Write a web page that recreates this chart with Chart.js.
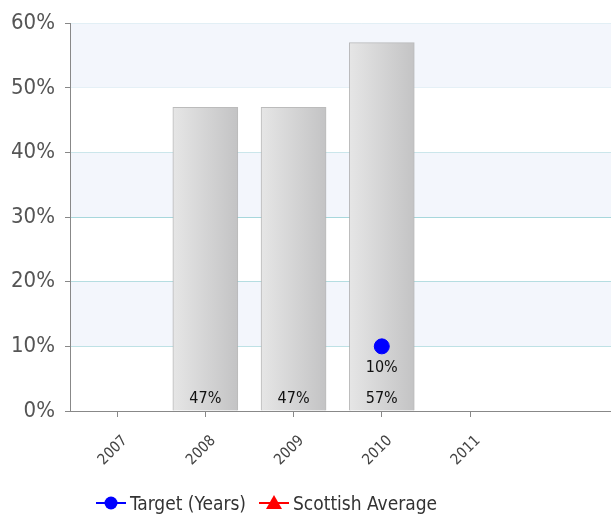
<!DOCTYPE html>
<html lang="en">
<head>
    <meta charset="UTF-8">
    <title>Target chart</title>
    <script src="https://cdn.jsdelivr.net/npm/chart.js"></script>
    <style>
        body { margin: 0; overflow: hidden; background: #fff; }
        .chart-box { position: relative; width: 660px; height: 518px; }
        .legend {
            position: absolute; left: 0; top: 490px; width: 532px;
            text-align: center; font: 19px 'DejaVu Sans Condensed', 'DejaVu Sans', sans-serif; color: #333;
            white-space: nowrap;
        }
        .legend span { display: inline-block; vertical-align: middle; }
        .legend canvas { vertical-align: middle; margin-right: 3px; }
        .legend .item { margin-right: 12px; }
        .legend .item:last-child { margin-right: 0; }
    </style>
</head>
<body>
    <div class="chart-box">
        <canvas id="chart"></canvas>
        <div class="legend" id="legend"></div>
    </div>

    <script>
// chart data
const years = [2007, 2008, 2009, 2010, 2011];
const performance = [null, 47, 47, 57, null];
const target = [null, null, null, 10, null];
const scottishAverage = [null, null, null, null, null];
const yTicks = [0, 10, 20, 30, 40, 50, 60];

const FONT = "'DejaVu Sans Condensed', 'DejaVu Sans', sans-serif";

function toPoints(values) {
    return years.map((yr, i) => ({ x: yr, y: values[i] })).filter(p => p.y !== null);
}

// small legend icon: line with a marker in the middle
function legendIcon(color, shape) {
    const c = document.createElement("canvas");
    c.width = 32; c.height = 16;
    const g = c.getContext("2d");
    g.strokeStyle = color; g.fillStyle = color; g.lineWidth = 2;
    g.beginPath(); g.moveTo(1, 8); g.lineTo(31, 8); g.stroke();
    g.beginPath();
    if (shape === "circle") {
        g.arc(16, 8, 6.5, 0, Math.PI * 2);
    } else {
        g.moveTo(16, 0); g.lineTo(24, 14); g.lineTo(8, 14); g.closePath();
    }
    g.fill();
    return c;
}

// grey bar gradient, lighter on the left
function barFill(ctx) {
    const chart = ctx.chart;
    const raw = ctx.raw;
    if (!chart.chartArea || !raw || !chart.scales.x) return "#d6d6d6";
    const cx = chart.scales.x.getPixelForValue(raw.x);
    const g = chart.ctx.createLinearGradient(cx - 33, 0, cx + 33, 0);
    g.addColorStop(0, "#e6e6e6");
    g.addColorStop(1, "#c3c3c4");
    return g;
}

// alternating bands behind the plot
const bandsPlugin = {
    id: "bands",
    beforeDatasetsDraw(chart) {
        const { ctx, chartArea, scales } = chart;
        const y = scales.y;
        ctx.save();
        ctx.fillStyle = "#f3f6fc";
        for (let i = 1; i < yTicks.length - 1; i += 2) {
            const top = y.getPixelForValue(yTicks[i + 1]);
            const bot = y.getPixelForValue(yTicks[i]);
            ctx.fillRect(chartArea.left + 1, top, chartArea.right - chartArea.left, bot - top);
        }
        ctx.restore();
    }
};

// value labels
const labelPlugin = {
    id: "valueLabels",
    afterDatasetsDraw(chart) {
        const { ctx, chartArea } = chart;
        ctx.save();
        ctx.font = "16px " + FONT;
        ctx.fillStyle = "#111";
        ctx.textAlign = "center";
        ctx.textBaseline = "middle";
        chart.getDatasetMeta(0).data.forEach((el, i) => {
            const v = chart.data.datasets[0].data[i].y;
            ctx.fillText(v + "%", el.x, chartArea.bottom - 12);
        });
        chart.getDatasetMeta(1).data.forEach((el, i) => {
            const v = chart.data.datasets[1].data[i].y;
            ctx.fillText(v + "%", el.x, el.y + 21);
        });
        ctx.restore();
    }
};

const chart = new Chart(document.getElementById("chart"), {
    data: {
        datasets: [
            {
                type: "bar",
                label: "Performance",
                data: toPoints(performance),
                backgroundColor: barFill,
                borderColor: "rgba(170,170,170,0.8)",
                borderWidth: 1,
                barThickness: 65,
                order: 2
            },
            {
                type: "line",
                label: "Target (Years)",
                data: toPoints(target),
                borderColor: "#0000ff",
                backgroundColor: "#0000ff",
                pointRadius: 7.5,
                pointStyle: "circle",
                showLine: false,
                order: 1
            },
            {
                type: "line",
                label: "Scottish Average",
                data: toPoints(scottishAverage),
                borderColor: "#ff0000",
                backgroundColor: "#ff0000",
                pointStyle: "triangle",
                pointRadius: 7,
                showLine: false,
                order: 1
            }
        ]
    },
    options: {
        responsive: true,
        maintainAspectRatio: false,
        animation: false,
        layout: { padding: { top: 22, right: 0, bottom: 41, left: 0 } },
        plugins: {
            tooltip: { enabled: false },
            legend: { display: false }
        },
        scales: {
            x: {
                type: "linear",
                offset: false,
                min: 2006.466,
                max: 2013.057,
                afterBuildTicks: s => { s.ticks = years.map(v => ({ value: v })); },
                afterFit: s => { s.height = 66; },
                grid: { offset: false, drawOnChartArea: false, tickLength: 6, tickColor: "#888" },
                border: { color: "#888", width: 1 },
                ticks: {
                    minRotation: 45,
                    maxRotation: 45,
                    labelOffset: 8,
                    padding: 15,
                    color: "#444",
                    font: { family: FONT, size: 15 },
                    callback: v => String(v)
                }
            },
            y: {
                min: 0,
                max: 60,
                afterBuildTicks: s => { s.ticks = yTicks.map(v => ({ value: v })); },
                afterFit: s => { s.width = 70; },
                grid: { color: "#9fd4d8", tickColor: "#888", tickLength: 5 },
                border: { color: "#888", width: 1 },
                ticks: {
                    color: "#555",
                    padding: 10,
                    font: { family: FONT, size: 22 },
                    callback: v => v + "%"
                }
            }
        }
    },
    plugins: [bandsPlugin, labelPlugin]
});

// legend below the chart, built from the line datasets
const legendEl = document.getElementById("legend");
chart.data.datasets.slice(1).forEach((ds, i) => {
    const item = document.createElement("span");
    item.className = "item";
    item.appendChild(legendIcon(ds.borderColor, i === 0 ? "circle" : "triangle"));
    const txt = document.createElement("span");
    txt.textContent = ds.label;
    item.appendChild(txt);
    legendEl.appendChild(item);
});
    </script>
</body>
</html>
